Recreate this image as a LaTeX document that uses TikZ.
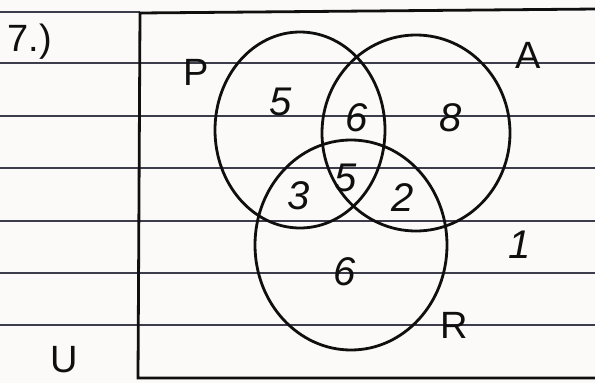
\documentclass[tikz,border=0pt]{standalone}
\usepackage{fontspec}
\setmainfont{Liberation Sans}
\definecolor{paper}{RGB}{252,250,249}
\definecolor{rule}{RGB}{60,60,75}
\definecolor{ink}{RGB}{15,15,15}
\begin{document}
\begin{tikzpicture}[x=1pt,y=-1pt,
  pen/.style={draw=ink,line width=2.8pt},
  ruleline/.style={draw=rule,line width=1.6pt},
  hand/.style={text=ink,font=\fontsize{40}{40}\selectfont\itshape},
  lab/.style={text=ink,font=\fontsize{38}{38}\selectfont}]
\fill[paper] (0,0) rectangle (595,383);
\useasboundingbox (0,0) rectangle (595,383);
% ruled lines
\foreach \y in {63,116,168,221,273,325} \draw[ruleline] (0,\y) -- (595,\y);
\draw[ruleline] (0,12) -- (140,12);
% universe box
\draw[pen] (597,9) -- (140,13) -- (138,378) -- (597,378);
% circles
\draw[pen] (300,130) ellipse [x radius=85, y radius=98];
\draw[pen] (416,133) ellipse [x radius=94, y radius=98];
\draw[pen] (351,245) ellipse [x radius=96, y radius=105];
% labels
\node[lab] (q7) at (30,42) {7.)};
\node[lab] (lP) at (196,72) {P};
\node[lab] (lA) at (528,55) {A};
\node[lab] (lR) at (454,325) {R};
\node[lab] (lU) at (64,360) {U};
\node[hand] (n1) at (520,245) {1};
\node[hand] (nP) at (281,102) {5};
\node[hand] (nPA) at (357,118) {6};
\node[hand] (nA) at (451,118) {8};
\node[hand] (nPAR) at (346,178) {5};
\node[hand] (nPR) at (299,196) {3};
\node[hand] (nAR) at (403,198) {2};
\node[hand] (nR) at (345,272) {6};
\end{tikzpicture}
\end{document}
